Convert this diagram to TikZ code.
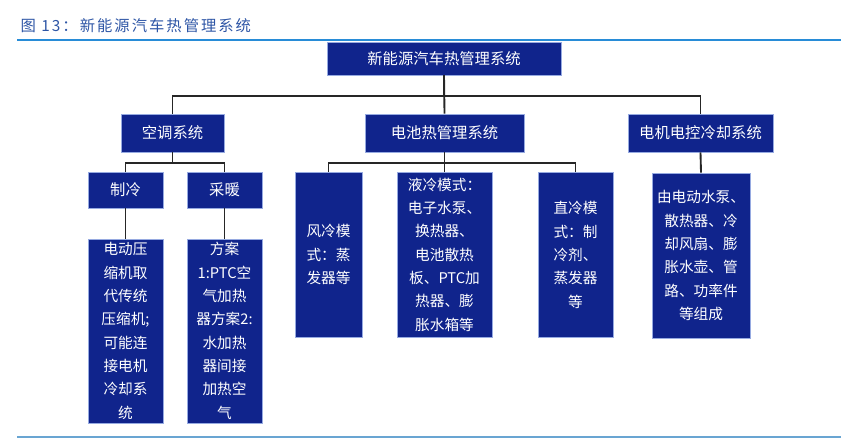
\documentclass[tikz,border=0pt]{standalone}
\usepackage{fontspec}
\usepackage{tikz}
\newfontfamily\cjk{Noto Sans CJK SC}
\newfontfamily\cjktitle[LetterSpace=13]{Noto Sans CJK SC}
\definecolor{boxblue}{RGB}{16,36,140}
\definecolor{boxedge}{RGB}{150,170,225}
\definecolor{titleblue}{RGB}{45,85,165}
\definecolor{ruleblue}{RGB}{40,140,215}
\definecolor{rulegrey}{RGB}{105,165,210}
\tikzset{
  blk/.style={draw=boxedge, line width=0.6pt, fill=boxblue, text=white, inner sep=0pt, align=center},
  hd/.style={blk, minimum height=28.5pt, font=\cjk\fontsize{11.5}{14}\selectfont},
  sub/.style={blk, font=\cjk\fontsize{11}{17.5}\selectfont},
  link/.style={line width=1.4pt, black!85}
}
\begin{document}
\begin{tikzpicture}[x=0.75pt,y=-0.75pt]
\useasboundingbox (0,0) rectangle (856,438);

\node[anchor=west, text=titleblue, font=\cjktitle\fontsize{11.5}{13}\selectfont] (title) at (16,26) {图 13：新能源汽车热管理系统};
\draw[ruleblue, line width=0.9pt] (17,40) -- (841,40);
\draw[rulegrey, line width=0.9pt] (17,437) -- (841,437);

\node[hd, minimum width=175.5pt, minimum height=24.75pt] (top) at (444,58.5) {新能源汽车热管理系统};

\node[hd, minimum width=77.25pt] (ac) at (172.5,133) {空调系统};
\node[hd, minimum width=119.25pt] (bat) at (444.5,133) {电池热管理系统};
\node[hd, minimum width=108.75pt] (mot) at (700.5,133) {电机电控冷却系统};

%空调
\node[sub, minimum width=56.25pt, minimum height=27pt, font=\cjk\fontsize{11.5}{14}\selectfont] (cool) at (125.5,190) {制冷};
\node[sub, minimum width=56.25pt, minimum height=27pt, font=\cjk\fontsize{11.5}{14}\selectfont] (heat) at (224.5,190) {采暖};
\node[sub, minimum width=56.25pt, minimum height=138pt] (cooltxt) at (125.5,331) {电动压\\缩机取\\代传统\\压缩机;\\可能连\\接电机\\冷却系\\统};
\node[sub, minimum width=56.25pt, minimum height=138pt] (heattxt) at (224.5,331) {方案\\1:PTC空\\气加热\\器方案2:\\水加热\\器间接\\加热空\\气};

%电池
\node[sub, minimum width=50.25pt, minimum height=123.75pt] (air) at (328.5,254.5) {风冷模\\式：蒸\\发器等};
\node[sub, minimum width=71.25pt, minimum height=123.75pt] (liq) at (444.5,254.5) {液冷模式：\\电子水泵、\\换热器、\\电池散热\\板、PTC加\\热器、膨\\胀水箱等};
\node[sub, minimum width=56.25pt, minimum height=123.75pt] (dir) at (575.5,255) {直冷模\\式：制\\冷剂、\\蒸发器\\等};

%电机
\node[sub, minimum width=73.5pt, minimum height=123.75pt] (mottxt) at (701,255.5) {由电动水泵、\\散热器、冷\\却风扇、膨\\胀水壶、管\\路、功率件\\等组成};

\draw[link] (top.south) -- (bat.north);
\draw[link] (top.south) -- ++(0,21) -| (ac.north);
\draw[link] (top.south) ++(0,21) -| (mot.north);

\draw[link] (ac.south) -- ++(0,11) -| (cool.north);
\draw[link] (ac.south) ++(0,11) -| (heat.north);
\draw[link] (cool.south) -- (cooltxt.north);
\draw[link] (heat.south) -- (heattxt.north);

\draw[link] (bat.south) -- ++(0,11) -| (air.north);
\draw[link] (bat.south) -- (liq.north);
\draw[link] (bat.south) ++(0,11) -| (dir.north);

\draw[link] (mot.south) -- (mottxt.north);

\end{tikzpicture}
\end{document}
